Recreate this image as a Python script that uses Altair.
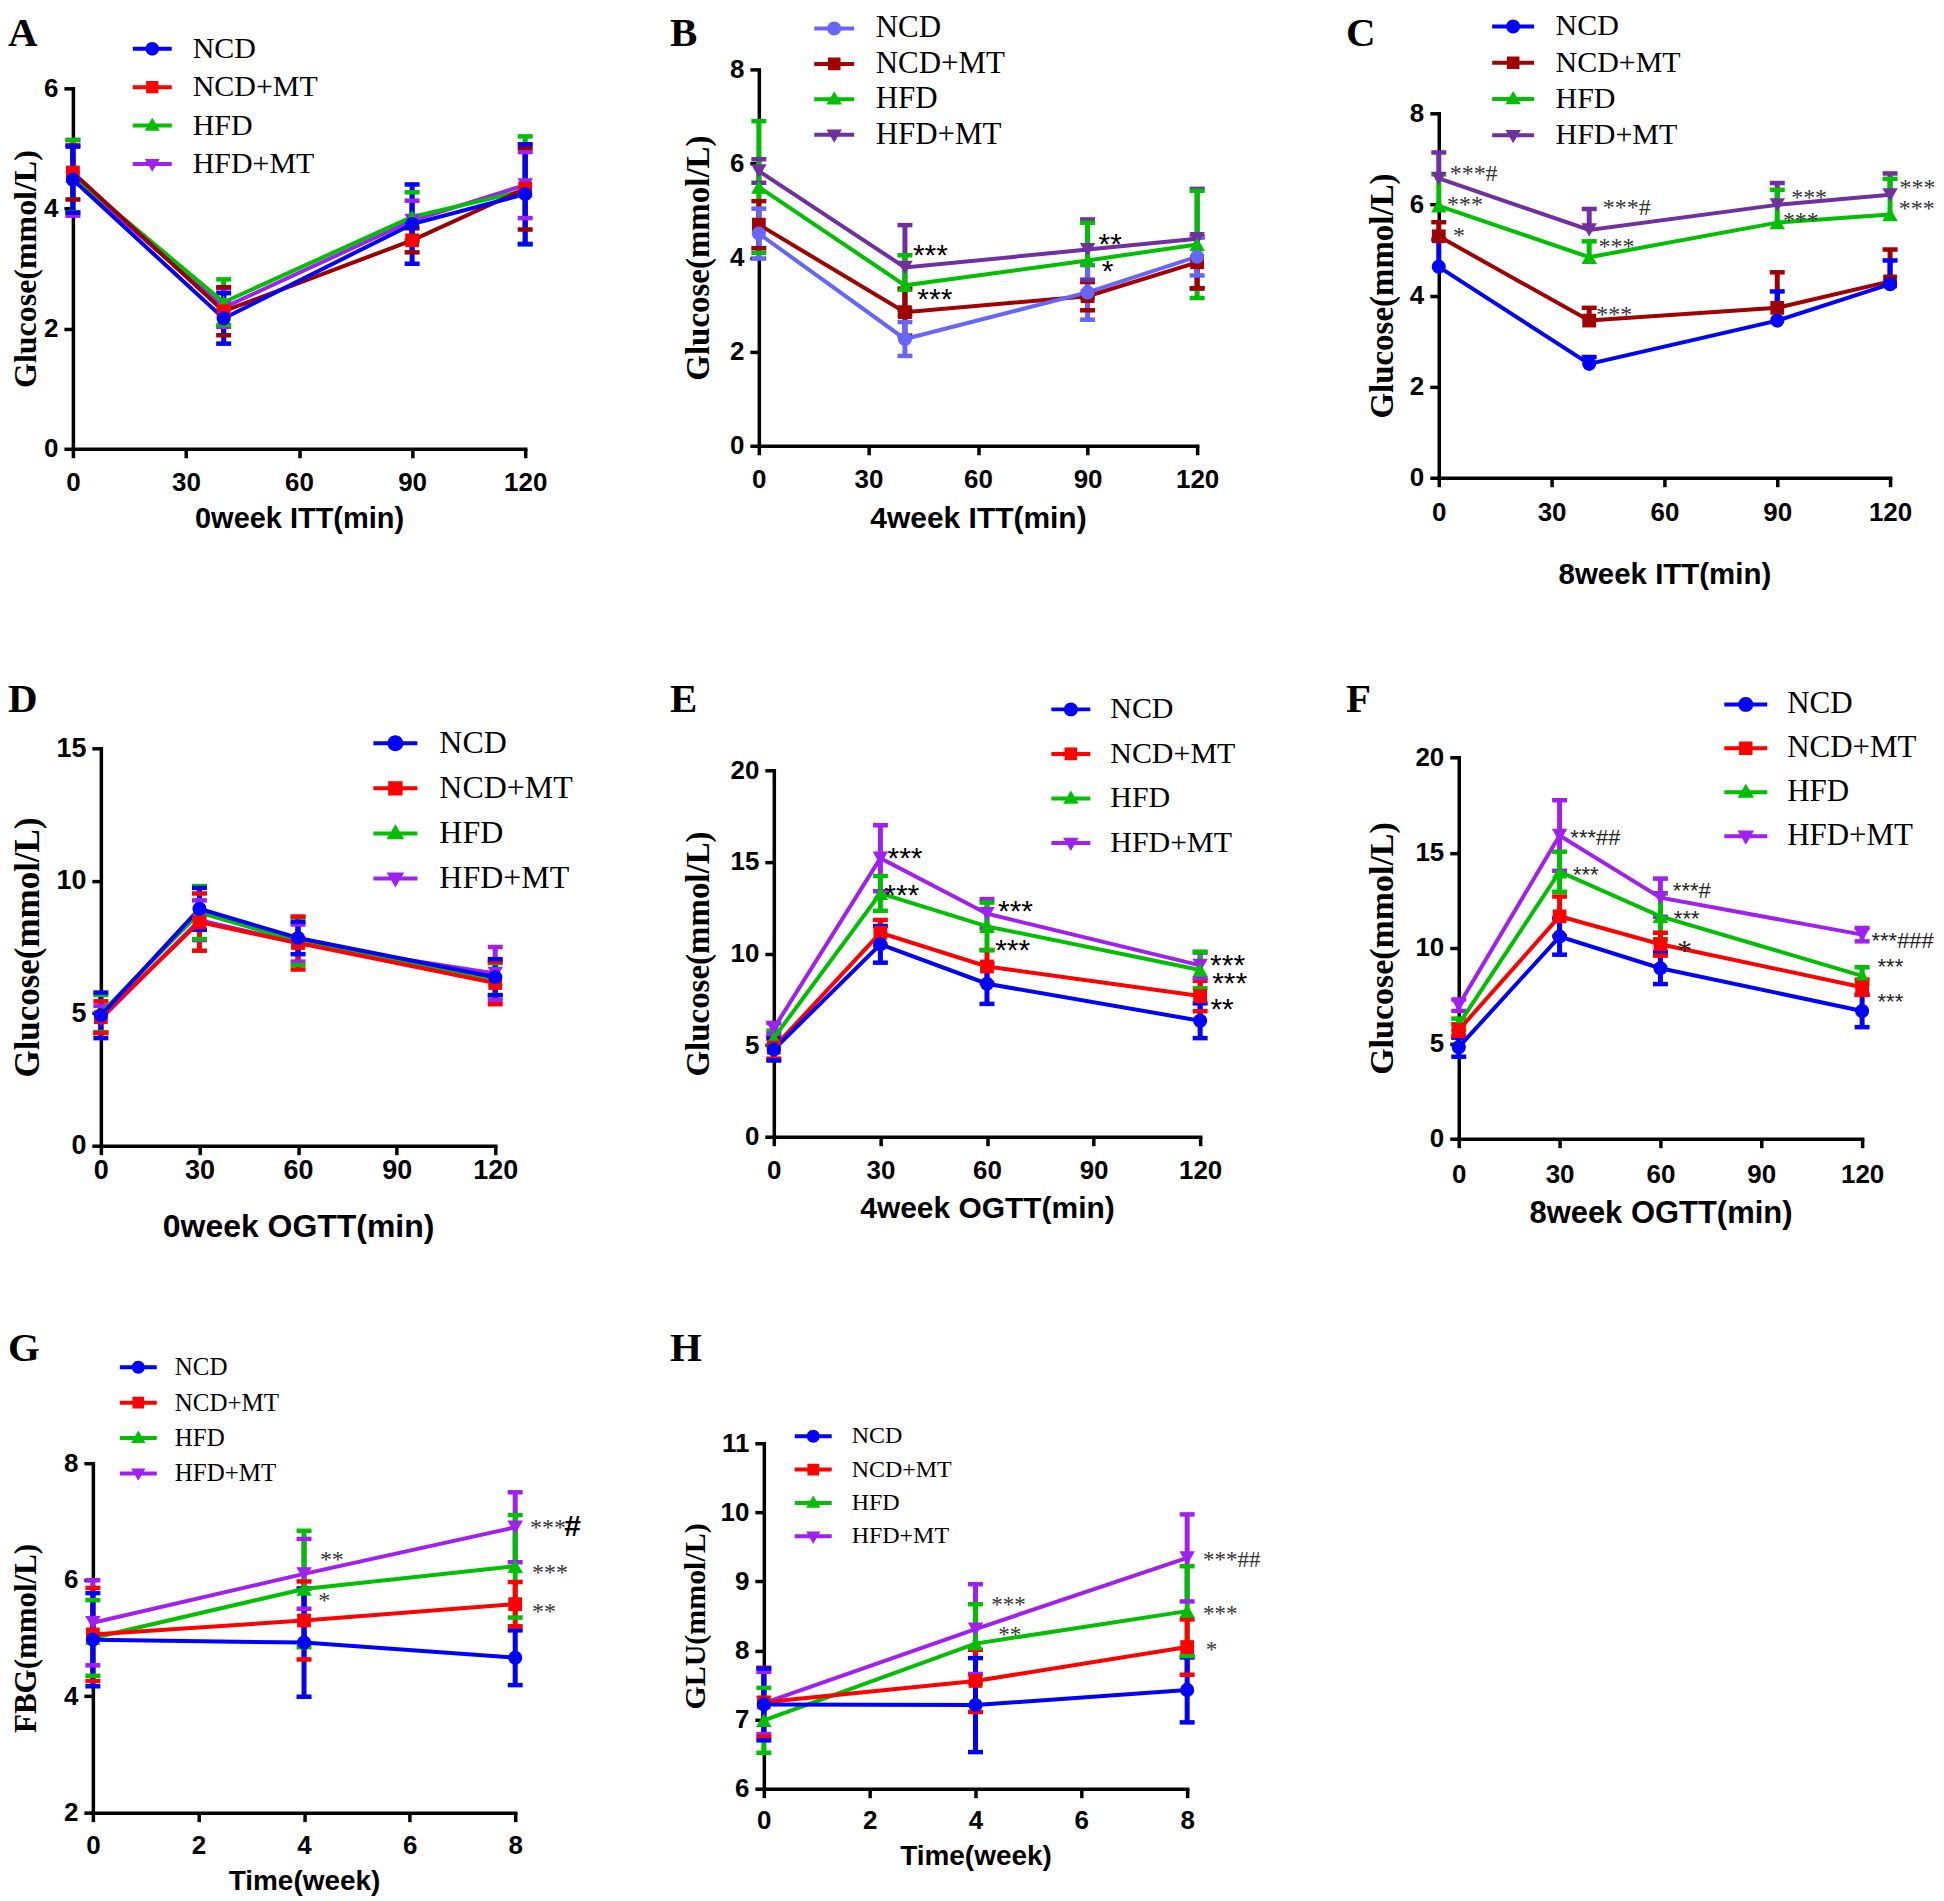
import altair as alt
import pandas as pd

GROUPS = ["NCD", "NCD+MT", "HFD", "HFD+MT"]
SHAPES = ["circle", "square", "triangle-up", "triangle-down"]
SIZES = {"circle": 200, "square": 190, "triangle-up": 240, "triangle-down": 240}

# ---------------- Panel A : 0 week ITT ----------------
A_x = [0, 40, 90, 120]
A_NCD = [4.48, 2.17, 3.74, 4.24]
A_NCD_sd = [0.55, 0.42, 0.66, 0.83]
A_NCDMT = [4.60, 2.29, 3.47, 4.33]
A_NCDMT_sd = [0.45, 0.40, 0.20, 0.68]
A_HFD = [4.54, 2.44, 3.86, 4.30]
A_HFD_sd = [0.60, 0.38, 0.41, 0.90]
A_HFDMT = [4.51, 2.35, 3.80, 4.39]
A_HFDMT_sd = [0.63, 0.32, 0.33, 0.55]

# ---------------- Panel B : 4 week ITT ----------------
B_x = [0, 40, 90, 120]
B_NCD = [4.51, 2.27, 3.26, 4.02]
B_NCD_sd = [0.53, 0.36, 0.58, 0.40]
B_NCDMT = [4.70, 2.84, 3.18, 3.90]
B_NCDMT_sd = [0.50, 0.50, 0.30, 0.55]
B_HFD = [5.50, 3.41, 3.94, 4.28]
B_HFD_sd = [1.40, 0.64, 0.80, 1.14]
B_HFDMT = [5.84, 3.79, 4.17, 4.40]
B_HFDMT_sd = [0.25, 0.90, 0.64, 1.06]
B_ann_x = [42.2, 43.4, 93.0, 93.9]
B_ann_y = [4.21, 3.26, 4.43, 3.87]
B_ann_t = ["***", "***", "**", "*"]

# ---------------- Panel C : 8 week ITT ----------------
C_x = [0, 40, 90, 120]
C_NCD = [4.63, 2.50, 3.45, 4.25]
C_NCD_sd = [0.60, 0.15, 0.64, 0.52]
C_NCDMT = [5.30, 3.45, 3.73, 4.31]
C_NCDMT_sd = [0.31, 0.28, 0.78, 0.70]
C_HFD = [5.97, 4.84, 5.60, 5.78]
C_HFD_sd = [0.69, 0.35, 0.72, 0.78]
C_HFDMT = [6.57, 5.44, 5.99, 6.21]
C_HFDMT_sd = [0.57, 0.46, 0.48, 0.47]
C_ann_x = [2.9, 2.2, 3.8, 43.6, 42.5, 41.9, 93.7, 91.5, 122.5, 122.3]
C_ann_y = [6.77, 6.10, 5.42, 6.03, 5.18, 3.67, 6.24, 5.75, 6.47, 6.00]
C_ann_t = ["***#", "***", "*", "***#", "***", "***", "***", "***", "***", "***"]

# ---------------- Panel D : 0 week OGTT ----------------
D_x = [0, 30, 60, 120]
D_NCD = [4.92, 8.94, 7.84, 6.36]
D_NCD_sd = [0.86, 0.79, 0.61, 0.68]
D_NCDMT = [4.85, 8.44, 7.65, 6.14]
D_NCDMT_sd = [0.60, 1.08, 1.00, 0.80]
D_HFD = [4.99, 8.80, 7.72, 6.29]
D_HFD_sd = [0.70, 1.00, 0.90, 0.60]
D_HFDMT = [4.78, 8.51, 7.65, 6.50]
D_HFDMT_sd = [0.50, 0.75, 0.70, 1.00]

# ---------------- Panel E : 4 week OGTT ----------------
E_x = [0, 30, 60, 120]
E_NCD = [4.76, 10.50, 8.35, 6.33]
E_NCD_sd = [0.60, 1.00, 1.10, 0.95]
E_NCDMT = [4.86, 11.13, 9.29, 7.68]
E_NCDMT_sd = [0.60, 0.70, 0.90, 0.83]
E_HFD = [5.39, 13.28, 11.48, 9.10]
E_HFD_sd = [0.40, 0.95, 1.30, 1.00]
E_HFDMT = [5.91, 15.20, 12.17, 9.35]
E_HFDMT_sd = [0.30, 1.80, 0.80, 0.70]
E_ann_x = [32.0, 31.1, 63.1, 62.3, 122.8, 123.4, 122.9]
E_ann_y = [15.6, 13.6, 12.7, 10.56, 9.77, 8.77, 7.37]
E_ann_t = ["***", "***", "***", "***", "***", "***", "**"]

# ---------------- Panel F : 8 week OGTT ----------------
F_x = [0, 30, 60, 120]
F_NCD = [4.80, 10.60, 8.94, 6.70]
F_NCD_sd = [0.50, 0.95, 0.83, 0.85]
F_NCDMT = [5.70, 11.66, 10.20, 7.94]
F_NCDMT_sd = [0.30, 1.04, 0.60, 0.40]
F_HFD = [6.00, 14.00, 11.66, 8.54]
F_HFD_sd = [0.30, 1.05, 1.20, 0.45]
F_HFDMT = [7.00, 15.90, 12.64, 10.70]
F_HFDMT_sd = [0.30, 1.85, 1.00, 0.35]
F_ann_x = [33.2, 34.0, 63.7, 64.0, 122.8, 124.6, 124.6]
F_ann_y = [16.1, 14.14, 13.3, 11.84, 10.7, 9.3, 7.5]
F_ann_t = ["***##", "***", "***#", "***", "***###", "***", "***"]
F_ann2_x = [64.9]
F_ann2_y = [10.14]
F_ann2_t = ["*"]

# ---------------- Panel G : FBG ----------------
G_x = [0, 4, 8]
G_NCD = [4.97, 4.92, 4.66]
G_NCD_sd = [0.80, 0.93, 0.47]
G_NCDMT = [5.06, 5.30, 5.58]
G_NCDMT_sd = [0.80, 0.67, 0.38]
G_HFD = [5.00, 5.84, 6.23]
G_HFD_sd = [0.65, 1.00, 0.88]
G_HFDMT = [5.26, 6.10, 6.90]
G_HFDMT_sd = [0.73, 0.60, 0.60]
G_ann_x = [4.3, 4.27, 8.28, 8.32, 8.32]
G_ann_y = [6.42, 5.71, 6.97, 6.19, 5.53]
G_ann_t = ["**", "*", "***", "***", "**"]
G_ann2_x = [8.93]
G_ann2_y = [6.9]
G_ann2_t = ["#"]

# ---------------- Panel H : GLU ----------------
H_x = [0, 4, 8]
H_NCD = [7.22, 7.21, 7.43]
H_NCD_sd = [0.52, 0.68, 0.47]
H_NCDMT = [7.25, 7.56, 8.05]
H_NCDMT_sd = [0.50, 0.45, 0.40]
H_HFD = [6.99, 8.10, 8.57]
H_HFD_sd = [0.47, 0.57, 0.65]
H_HFDMT = [7.24, 8.31, 9.34]
H_HFDMT_sd = [0.45, 0.65, 0.63]
H_ann_x = [4.3, 4.43, 8.3, 8.3, 8.35]
H_ann_y = [8.73, 8.29, 9.38, 8.6, 8.07]
H_ann_t = ["***", "**", "***##", "***", "*"]

# ---------------- colours ----------------
BLUE, RED, DKRED = "#0000FF", "#FF0000", "#990000"
GREEN, VIOLET = "#00BF00", "#A020F0"
LBLUE, MAROON, PURPLE = "#6666FF", "#A00000", "#7030A0"
STD = [BLUE, RED, GREEN, VIOLET]

SANS = "Liberation Sans"
SERIF = "Liberation Serif"

# ---------------- layout (page pixel coordinates of the reference) ----------------
COLX = [8, 650, 1292]
ROWY = [8, 636, 1264]
CELL_W = 642
CELL_H = 628

PANELS = [
    dict(letter="A", col=0, row=0, L=73, R=526, T=87, B=448, lxy=(8, 45),
         xs=A_x, means=[A_NCD, A_NCDMT, A_HFD, A_HFDMT], sds=[A_NCD_sd, A_NCDMT_sd, A_HFD_sd, A_HFDMT_sd],
         up_only=False, anns=[], xdom=[0, 120], xticks=[0, 30, 60, 90, 120], ydom=[0, 6], yticks=[0, 2, 4, 6],
         xtitle="0week ITT(min)", ytitle="Glucose(mmol/L)", xty=70, ytx=26, xtfs=29, ytfs=32, lfs=26, xlp=12,
         lines=[BLUE, DKRED, GREEN, VIOLET], marks=STD,
         leg=dict(cx=152.5, cy=47.3, sp=38.1, lab=193, fs=30, half=19.5, mrad=6.8, fix=3.4)),
    dict(letter="B", col=1, row=0, L=760, R=1199, T=68, B=445, lxy=(671, 45),
         xs=B_x, means=[B_NCD, B_NCDMT, B_HFD, B_HFDMT], sds=[B_NCD_sd, B_NCDMT_sd, B_HFD_sd, B_HFDMT_sd],
         up_only=False, anns=[(B_ann_x, B_ann_y, B_ann_t, SANS, 30, "black", "normal")],
         xdom=[0, 120], xticks=[0, 30, 60, 90, 120], ydom=[0, 8], yticks=[0, 2, 4, 6, 8],
         xtitle="4week ITT(min)", ytitle="Glucose(mmol/L)", xty=73, ytx=700, xtfs=30, ytfs=33, lfs=26, xlp=11.5,
         lines=[LBLUE, MAROON, GREEN, PURPLE], marks=[LBLUE, MAROON, GREEN, PURPLE],
         leg=dict(cx=835.5, cy=27, sp=35.7, lab=877, fs=31, half=20, mrad=7, fix=1.8)),
    dict(letter="C", col=2, row=0, L=1441, R=1893, T=112, B=477, lxy=(1348, 45),
         xs=C_x, means=[C_NCD, C_NCDMT, C_HFD, C_HFDMT], sds=[C_NCD_sd, C_NCDMT_sd, C_HFD_sd, C_HFDMT_sd],
         up_only=True, anns=[(C_ann_x, C_ann_y, C_ann_t, SERIF, 24, "#333333", "normal")],
         xdom=[0, 120], xticks=[0, 30, 60, 90, 120], ydom=[0, 8], yticks=[0, 2, 4, 6, 8],
         xtitle="8week ITT(min)", ytitle="Glucose(mmol/L)", xty=97, ytx=1385, xtfs=29.5, ytfs=33, lfs=26, xlp=13,
         lines=[BLUE, MAROON, GREEN, PURPLE], marks=[BLUE, MAROON, GREEN, PURPLE],
         leg=dict(cx=1515.5, cy=14, sp=36.3, lab=1558, fs=30, half=21, mrad=7, fix=2.0)),
    dict(letter="D", col=0, row=1, L=101, R=496, T=748, B=1146, lxy=(8, 712),
         xs=D_x, means=[D_NCD, D_NCDMT, D_HFD, D_HFDMT], sds=[D_NCD_sd, D_NCDMT_sd, D_HFD_sd, D_HFDMT_sd],
         up_only=False, anns=[], xdom=[0, 120], xticks=[0, 30, 60, 90, 120], ydom=[0, 15], yticks=[0, 5, 10, 15],
         xtitle="0week OGTT(min)", ytitle="Glucose(mmol/L)", xty=81, ytx=28, xtfs=32, ytfs=35, lfs=27, xlp=3,
         lines=STD, marks=STD,
         leg=dict(cx=396, cy=743, sp=45.3, lab=440, fs=32, half=22, mrad=8, fix=4.8)),
    dict(letter="E", col=1, row=1, L=775, R=1202, T=770, B=1137, lxy=(671, 712),
         xs=E_x, means=[E_NCD, E_NCDMT, E_HFD, E_HFDMT], sds=[E_NCD_sd, E_NCDMT_sd, E_HFD_sd, E_HFDMT_sd],
         up_only=False, anns=[(E_ann_x, E_ann_y, E_ann_t, SANS, 30, "black", "normal")],
         xdom=[0, 120], xticks=[0, 30, 60, 90, 120], ydom=[0, 20], yticks=[0, 5, 10, 15, 20],
         xtitle="4week OGTT(min)", ytitle="Glucose(mmol/L)", xty=72, ytx=700, xtfs=30, ytfs=33, lfs=26, xlp=12,
         lines=STD, marks=STD,
         leg=dict(cx=1072.5, cy=709, sp=44.3, lab=1112, fs=30, half=19.5, mrad=7, fix=6.3)),
    dict(letter="F", col=2, row=1, L=1461, R=1865, T=757, B=1139, lxy=(1348, 712),
         xs=F_x, means=[F_NCD, F_NCDMT, F_HFD, F_HFDMT], sds=[F_NCD_sd, F_NCDMT_sd, F_HFD_sd, F_HFDMT_sd],
         up_only=False, anns=[(F_ann_x, F_ann_y, F_ann_t, SANS, 22, "#222222", "normal"),
                              (F_ann2_x, F_ann2_y, F_ann2_t, SERIF, 30, "#222222", "normal")],
         xdom=[0, 120], xticks=[0, 30, 60, 90, 120], ydom=[0, 20], yticks=[0, 5, 10, 15, 20],
         xtitle="8week OGTT(min)", ytitle="Glucose(mmol/L)", xty=75, ytx=1385, xtfs=31, ytfs=34, lfs=26, xlp=14,
         lines=STD, marks=STD,
         leg=dict(cx=1748.5, cy=704, sp=44, lab=1790, fs=31, half=21.5, mrad=7.5, fix=6.0)),
    dict(letter="G", col=0, row=2, L=93, R=516, T=1464, B=1814, lxy=(8, 1362),
         xs=G_x, means=[G_NCD, G_NCDMT, G_HFD, G_HFDMT], sds=[G_NCD_sd, G_NCDMT_sd, G_HFD_sd, G_HFDMT_sd],
         up_only=False, anns=[(G_ann_x, G_ann_y, G_ann_t, SERIF, 24, "#333333", "normal"),
                              (G_ann2_x, G_ann2_y, G_ann2_t, SANS, 30, "black", "bold")],
         xdom=[0, 8], xticks=[0, 2, 4, 6, 8], ydom=[2, 8], yticks=[2, 4, 6, 8],
         xtitle="Time(week)", ytitle="FBG(mmol/L)", xty=69, ytx=27, xtfs=28, ytfs=31, lfs=26, xlp=11,
         lines=STD, marks=STD,
         leg=dict(cx=138.5, cy=1368, sp=35.3, lab=175, fs=25, half=18.5, mrad=6.5, fix=3.1)),
    dict(letter="H", col=1, row=2, L=765, R=1189, T=1444, B=1790, lxy=(671, 1362),
         xs=H_x, means=[H_NCD, H_NCDMT, H_HFD, H_HFDMT], sds=[H_NCD_sd, H_NCDMT_sd, H_HFD_sd, H_HFDMT_sd],
         up_only=False, anns=[(H_ann_x, H_ann_y, H_ann_t, SERIF, 23, "#333333", "normal")],
         xdom=[0, 8], xticks=[0, 2, 4, 6, 8], ydom=[6, 11], yticks=[6, 7, 8, 9, 10, 11],
         xtitle="Time(week)", ytitle="GLU(mmol/L)", xty=68, ytx=697, xtfs=28, ytfs=30, lfs=26, xlp=9.5,
         lines=STD, marks=STD,
         leg=dict(cx=814.5, cy=1437, sp=33.3, lab=853, fs=24, half=18.5, mrad=6.5, fix=3.1)),
]


def build_df(xs, means, sds, up_only):
    rows = []
    for gi in reversed(range(len(GROUPS))):
        for x, m, s in zip(xs, means[gi], sds[gi]):
            rows.append({"group": GROUPS[gi], "x": x, "y": m,
                         "lo": m if up_only else m - s, "hi": m + s})
    return pd.DataFrame(rows)


def legend_paths(r, half, mrad, thick):
    f = lambda v: f"{v:.3f}"
    L, m, t = half / r, mrad / r, thick / r
    line = f"M{f(-L)},{f(-t)}H{f(L)}V{f(t)}H{f(-L)}Z"
    circ = f"M{f(m)},0A{f(m)},{f(m)},0,1,1,{f(-m)},0A{f(m)},{f(m)},0,1,1,{f(m)},0Z"
    s = 0.9 * m
    sq = f"M{f(-s)},{f(-s)}H{f(s)}V{f(s)}H{f(-s)}Z"
    a, b, w = 1.15 * m, 0.75 * m, 1.1 * m
    tu = f"M0,{f(-a)}L{f(w)},{f(b)}H{f(-w)}Z"
    td = f"M0,{f(a)}L{f(-w)},{f(-b)}H{f(w)}Z"
    return [line + circ, line + sq, line + tu, line + td]


def make_panel(P):
    ox, oy = COLX[P["col"]], ROWY[P["row"]]
    W, H = CELL_W, CELL_H
    xr = [P["L"] - ox, P["R"] - ox]
    yr = [P["B"] - oy, P["T"] - oy]
    df = build_df(P["xs"], P["means"], P["sds"], P["up_only"])

    xscale = alt.Scale(domain=P["xdom"], range=xr, nice=False, zero=False)
    yscale = alt.Scale(domain=P["ydom"], range=yr, nice=False, zero=False)
    ytx_local = max(P["ytx"] - ox, 0.53 * P["ytfs"])
    common = dict(grid=False, domainColor="black", domainWidth=3.5, domainCap="square",
                  tickColor="black", tickWidth=3.5, tickSize=9,
                  labelFont=SANS, labelFontWeight="bold", labelFontSize=P["lfs"], labelColor="black",
                  labelFlush=False, labelOverlap=False, titleColor="black", titleFontWeight="bold",
                  titleBaseline="middle", titleAlign="center")
    xaxis = alt.Axis(orient="bottom", offset=yr[0] - H, values=P["xticks"], title=P["xtitle"],
                     labelPadding=P["xlp"], titleFont=SANS, titleFontSize=P["xtfs"],
                     titleX=(xr[0] + xr[1]) / 2, titleY=P["xty"], titleAngle=0, **common)
    yaxis = alt.Axis(orient="left", offset=-xr[0], values=P["yticks"], title=P["ytitle"],
                     labelPadding=6, titleFont=SERIF, titleFontSize=P["ytfs"],
                     titleX=ytx_local - xr[0], titleY=(yr[0] + yr[1]) / 2, titleAngle=270, **common)

    def X(f):
        return alt.X(f, type="quantitative", scale=xscale, axis=xaxis)

    def Y(f):
        return alt.Y(f, type="quantitative", scale=yscale, axis=yaxis)

    stroke = alt.Stroke("group:N", scale=alt.Scale(domain=GROUPS, range=P["lines"]), legend=None)
    base = alt.Chart(df)

    # legend (library legend, symbols = line + marker paths); its own points are tiny and drawn first
    lg = P["leg"]
    size = max(round(lg["sp"] - 2), lg["fs"])
    r = size / 2
    paths = legend_paths(r, lg["half"], lg["mrad"], 2.0)
    legend = alt.Legend(orient="none", legendX=lg["cx"] - ox - r,
                        legendY=max(0, lg["cy"] - oy - r), title=None,
                        symbolSize=size * size, symbolStrokeWidth=0, symbolOpacity=1,
                        labelFont=SERIF, labelFontSize=lg["fs"], labelColor="black",
                        labelOffset=(lg["lab"] - lg["cx"]) - r, rowPadding=lg["sp"] - size + lg["fix"],
                        padding=0, labelLimit=400)
    layers = [base.mark_point(filled=True, size=1).encode(
        x=X("x"), y=Y("y"),
        color=alt.Color("group:N", scale=alt.Scale(domain=GROUPS, range=P["marks"]), legend=legend),
        shape=alt.Shape("group:N", scale=alt.Scale(domain=GROUPS, range=paths), legend=legend))]

    layers += [
        base.mark_rule(strokeWidth=5).encode(x=X("x"), y=Y("lo"), y2=alt.Y2("hi"), stroke=stroke),
        base.mark_point(shape="stroke", size=225, strokeWidth=4.5, opacity=1, filled=False).encode(
            x=X("x"), y=Y("hi"), stroke=stroke),
    ]
    if not P["up_only"]:
        layers.append(base.mark_point(shape="stroke", size=225, strokeWidth=4.5, opacity=1, filled=False).encode(
            x=X("x"), y=Y("lo"), stroke=stroke))
    layers.append(base.mark_line(strokeWidth=4).encode(x=X("x"), y=Y("y"), stroke=stroke))
    for gi in reversed(range(len(GROUPS))):
        g, shp = GROUPS[gi], SHAPES[gi]
        layers.append(base.transform_filter(alt.datum.group == g).mark_point(
            filled=True, opacity=1, shape=shp, size=SIZES[shp], color=P["marks"][gi], strokeWidth=0
        ).encode(x=X("x"), y=Y("y")))

    for ax, ay, at, font, fs, col, wt in P["anns"]:
        adf = pd.DataFrame({"ax": ax, "ay": ay, "t": at})
        dy = (0.27 if font == SANS else 0.2) * fs
        if "#" in at[0] and "*" not in at[0]:
            dy = 0
        layers.append(alt.Chart(adf).mark_text(align="left", baseline="middle", font=font, fontSize=fs,
                                               fontWeight=wt, color=col, dy=dy).encode(
            x=X("ax"), y=Y("ay"), text="t:N"))

    lx, ly = P["lxy"]
    layers.append(alt.Chart(pd.DataFrame({"t": [P["letter"]]})).mark_text(
        align="left", baseline="alphabetic", font=SERIF, fontWeight="bold", fontSize=41, color="black"
    ).encode(x=alt.value(lx - ox), y=alt.value(ly - oy), text="t:N"))

    return alt.layer(*layers).properties(width=W, height=H)


panels = [make_panel(P) for P in PANELS]

chart = alt.concat(*panels, columns=3, spacing=0, bounds="flush").resolve_scale(
    color="independent", shape="independent", stroke="independent"
).resolve_legend(color="independent", shape="independent").properties(
    padding=0, background="white").configure_view(stroke="transparent", strokeWidth=0)

chart.save("out.html", embed_options={"renderer": "svg", "actions": False})
